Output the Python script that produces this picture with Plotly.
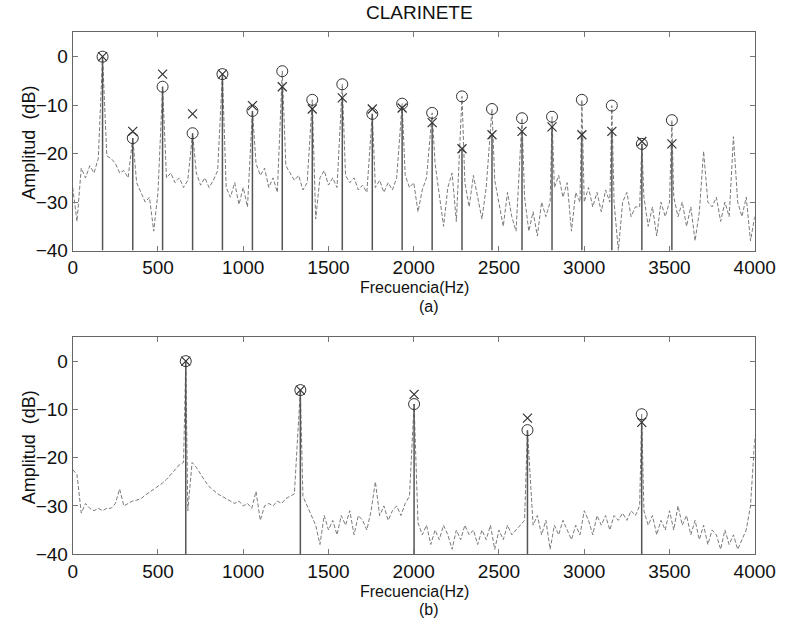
import plotly.graph_objects as go

# ---------------- data ----------------
# Panel (a): 20 harmonics
harm_a_freq = [175, 352, 527, 703, 878, 1054, 1229, 1405, 1581, 1757,
               1932, 2108, 2283, 2459, 2635, 2811, 2986, 3162, 3338, 3514]
harm_a_circ = [0, -16.8, -6.2, -15.8, -3.6, -11.2, -3.0, -8.9, -5.7, -11.8,
               -9.7, -11.6, -8.2, -10.8, -12.7, -12.4, -8.9, -10.1, -18.0, -13.1]
harm_a_x = [0, -15.4, -3.6, -11.8, -3.6, -10.1, -6.2, -10.8, -8.5, -10.8,
            -10.6, -13.6, -19.0, -16.1, -15.4, -14.5, -16.1, -15.4, -17.5, -18.0]

# Panel (a): background spectrum on a 25 Hz grid (0..4000 Hz)
floor_a = [
    -27, -34, -23, -25, -22.5, -24, -21, -20,          # 0-175
    -20.5, -21, -22, -24, -23.5, -25, -25, -26,        # 200-375
    -28, -30, -29, -36, -28, -24, -25, -24,            # 400-575
    -26, -25, -27, -25.5, -25, -24, -26.5, -25,        # 600-775
    -27, -25.5, -23.5, -25, -27, -29, -26, -30.5,      # 800-975
    -27, -31, -25, -22, -24.5, -23, -27, -25,          # 1000-1175
    -28, -26, -22.5, -24, -25.5, -24.5, -27.5, -26,    # 1200-1375
    -27, -33.5, -25, -23.5, -26.5, -25, -27, -26,      # 1400-1575
    -24.5, -26, -25, -27.5, -26.5, -28, -30, -27,      # 1600-1775
    -25.5, -28, -26, -27.5, -25, -26, -24.5, -27,      # 1800-1975
    -26, -32, -27.5, -25, -26, -22, -28, -35,          # 2000-2175
    -27, -24, -34, -27, -26, -31, -24.5, -29,          # 2200-2375
    -33.5, -27, -27, -25.5, -30, -35, -28, -33,        # 2400-2575
    -36, -30, -29, -36, -32, -37, -30, -33,            # 2600-2775
    -30, -27, -24.5, -29, -26, -36, -28, -30,          # 2800-2975
    -30, -27, -31, -28, -32, -27.5, -30, -30,          # 3000-3175
    -40, -30, -28, -33, -31, -31, -29, -35,            # 3200-3375
    -31, -37, -30, -33, -30, -29, -33, -30,            # 3400-3575
    -35, -31, -38, -32, -19.5, -30, -31, -29,          # 3600-3775
    -34, -30, -33, -16.5, -30, -33, -29, -38,          # 3800-3975
    -33,                                               # 4000
]

# Panel (b): 5 harmonics
harm_b_freq = [663, 1335, 2002, 2667, 3337]
harm_b_circ = [0, -6.0, -8.9, -14.3, -11.0]
harm_b_x = [0, -6.0, -6.9, -11.8, -12.7]

# Panel (b): background spectrum on a 25 Hz grid (0..4000 Hz)
floor_b = [
    -22.5, -23.5, -31.5, -29.5, -30.5, -31, -30.5, -31,      # 0-175
    -30.5, -30.5, -29.5, -26.5, -30, -29.5, -29, -28.8,      # 200-375
    -28.5, -27.8, -27.2, -26.5, -26, -25.3, -24.5, -23.5,    # 400-575
    -22.5, -21.5, -21, -31, -21, -22, -23.5, -24.8,          # 600-775
    -26, -26.8, -27.5, -28, -28.5, -29, -29.5, -29,          # 800-975
    -30, -29.5, -30.5, -27, -33, -30, -29.5, -30,            # 1000-1175
    -29, -29.5, -28.5, -28, -27.5, -26.5, -28, -30,          # 1200-1375
    -32, -34, -38, -32, -35, -33, -36, -32,                  # 1400-1575
    -34, -31, -36, -32, -33, -35, -31, -25,                  # 1600-1775
    -32, -30, -33, -31, -30, -32, -29.5, -28,                # 1800-1975
    -28, -33.5, -36, -34, -38, -35, -37, -34,                # 2000-2175
    -36, -39, -35, -37, -34, -36, -35, -38,                  # 2200-2375
    -35, -37, -34, -39, -35, -37, -34, -36,                  # 2400-2575
    -35, -34, -33, -33, -34, -32, -36, -33,                  # 2600-2775
    -39, -34, -36, -33, -35, -37, -34, -36,                  # 2800-2975
    -31, -33, -36, -32, -34, -32, -35, -32,                  # 3000-3175
    -33, -31.5, -33, -31, -32, -30, -31, -34,                # 3200-3375
    -32, -36, -33, -35, -31, -35, -30, -34,                  # 3400-3575
    -32, -36, -33, -37, -34, -38, -35, -36,                  # 3600-3775
    -39, -35, -38, -36, -39, -37, -35, -30,                  # 3800-3975
    -16,                                                     # 4000
]

x_ticks = [0, 500, 1000, 1500, 2000, 2500, 3000, 3500, 4000]
y_ticks = [-40, -30, -20, -10, 0]
y_tick_text = ["\u221240", "\u221230", "\u221220", "\u221210", "0"]

GRID_STEP = 25
Y_MIN, Y_MAX = -40, 5


def spectrum(floor, hf, hv):
    grid = [i * GRID_STEP for i in range(len(floor))]
    pts = [(f, v) for f, v in zip(grid, floor)
           if min(abs(f - h) for h in hf) > 10]
    pts += list(zip(hf, hv))
    pts.sort()
    return [p[0] for p in pts], [p[1] for p in pts]


def stems(hf, hc, hx):
    xs, ys = [], []
    for f, c, x in zip(hf, hc, hx):
        xs += [f, f, None]
        ys += [Y_MIN, min(c, x), None]
    return xs, ys


fig = go.Figure()

panels = [
    (floor_a, harm_a_freq, harm_a_circ, harm_a_x, "x", "y"),
    (floor_b, harm_b_freq, harm_b_circ, harm_b_x, "x2", "y2"),
]
for floor, hf, hc, hx, xa, ya in panels:
    sx, sy = spectrum(floor, hf, hc)
    fig.add_trace(go.Scatter(x=sx, y=sy, mode="lines", xaxis=xa, yaxis=ya,
                             line=dict(color="#7a7a7a", width=1, dash="4px,2px"),
                             showlegend=False, hoverinfo="skip"))
    stx, sty = stems(hf, hc, hx)
    fig.add_trace(go.Scatter(x=stx, y=sty, mode="lines", xaxis=xa, yaxis=ya,
                             line=dict(color="#555555", width=1.5),
                             showlegend=False, hoverinfo="skip"))
    fig.add_trace(go.Scatter(x=hf, y=hc, mode="markers", xaxis=xa, yaxis=ya,
                             marker=dict(symbol="circle-open", size=11,
                                         color="#333333", line=dict(width=1)),
                             showlegend=False))
    fig.add_trace(go.Scatter(x=hf, y=hx, mode="markers", xaxis=xa, yaxis=ya,
                             marker=dict(symbol="x-thin-open", size=9,
                                         color="#333333", line=dict(width=1.2, color="#333333")),
                             showlegend=False))

W, H = 798, 630
x_dom = [70 / W, 775 / W]
FONT_FAMILY = "Liberation Sans, Arial"
axis_common = dict(showgrid=False, zeroline=False, showline=True, mirror="ticks",
                   linecolor="#666666", linewidth=1, ticks="inside", ticklen=5,
                   tickcolor="#777777",
                   tickfont=dict(family=FONT_FAMILY, size=19, color="#111111"))

fig.update_layout(
    width=W, height=H, margin=dict(l=0, r=0, t=0, b=0),
    paper_bgcolor="white", plot_bgcolor="white",
    xaxis=dict(domain=x_dom, anchor="y", range=[0, 4000], tickvals=x_ticks, **axis_common),
    yaxis=dict(domain=[1 - 255 / H, 1 - 33 / H], anchor="x", range=[Y_MIN, Y_MAX],
               tickvals=y_ticks, ticktext=y_tick_text, **axis_common),
    xaxis2=dict(domain=x_dom, anchor="y2", range=[0, 4000], tickvals=x_ticks, **axis_common),
    yaxis2=dict(domain=[1 - 564 / H, 1 - 343 / H], anchor="x2", range=[Y_MIN, Y_MAX],
                tickvals=y_ticks, ticktext=y_tick_text, **axis_common),
)

font18 = dict(family=FONT_FAMILY, size=18, color="#111111")
font16 = dict(family=FONT_FAMILY, size=16, color="#111111")
ann = [
    dict(text="CLARINETE", x=428 / W, y=1 - 12.5 / H, font=dict(family=FONT_FAMILY, size=19, color="#111111")),
    dict(text="Frecuencia(Hz)", x=423 / W, y=1 - 293 / H, font=font16),
    dict(text="(a)", x=438 / W, y=1 - 311.5 / H, font=font16),
    dict(text="Frecuencia(Hz)", x=423 / W, y=1 - 602 / H, font=font16),
    dict(text="(b)", x=438 / W, y=1 - 620.5 / H, font=font16),
    dict(text="Amplitud  (dB)", x=25 / W, y=1 - 145 / H, textangle=-90, font=font18),
    dict(text="Amplitud  (dB)", x=25 / W, y=1 - 455 / H, textangle=-90, font=font18),
]
for a in ann:
    fig.add_annotation(xref="paper", yref="paper", showarrow=False, borderpad=0,
                       xanchor="center", yanchor="middle", **a)

fig.write_html("out.html")
